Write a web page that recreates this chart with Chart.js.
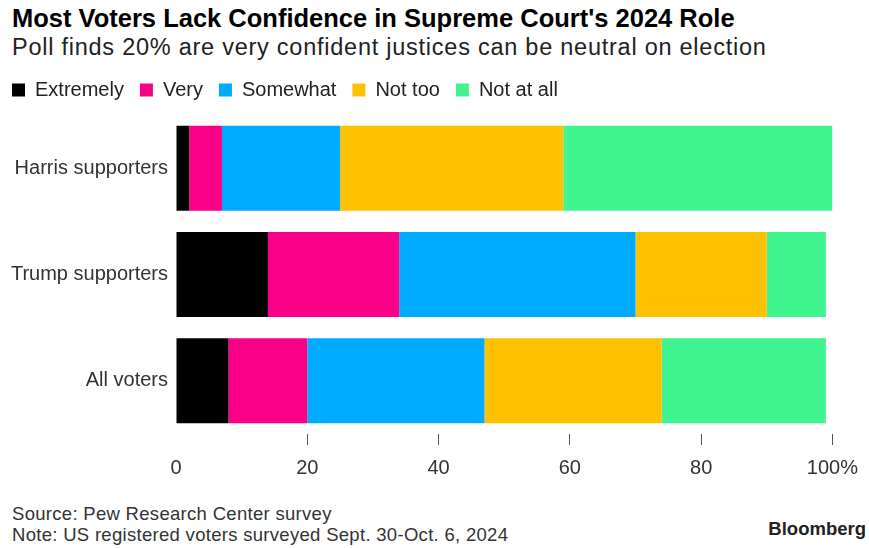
<!DOCTYPE html>
<html lang="en">
<head>
    <meta charset="UTF-8">
    <title>Supreme Court confidence</title>
    <script src="https://cdn.jsdelivr.net/npm/chart.js"></script>
</head>
<style>
    body {
        margin: 0;
        background-color: #ffffff;
        width: 869px;
        height: 548px;
        overflow: hidden;
        position: relative;
        font-family: 'Liberation Sans', Arial, sans-serif;
    }

    h1 {
        position: absolute;
        left: 12px;
        top: 4px;
        margin: 0;
        font-size: 25.5px;
        line-height: normal;
        font-weight: bold;
        color: #000;
        white-space: nowrap;
    }

    h2 {
        position: absolute;
        left: 12px;
        top: 34px;
        margin: 0;
        font-size: 23.5px;
        line-height: normal;
        letter-spacing: 0.75px;
        font-weight: normal;
        color: #222;
        white-space: nowrap;
    }

    .wrap {
        position: absolute;
        left: -4px;
        top: 64px;
        width: 873px;
        height: 420px;
    }

    .foot {
        position: absolute;
        left: 12px;
        top: 503px;
        font-size: 18.5px;
        line-height: 21px;
        letter-spacing: 0.3px;
        color: #333;
        white-space: nowrap;
    }

    .brand {
        position: absolute;
        right: 3px;
        top: 518px;
        font-size: 18.5px;
        line-height: normal;
        font-weight: bold;
        color: #222;
    }
</style>
<body>

<h1>Most Voters Lack Confidence in Supreme Court's 2024 Role</h1>
<h2>Poll finds 20% are very confident justices can be neutral on election</h2>

<div class="wrap">
    <canvas id="barChart" width="873" height="420"></canvas>
</div>

<div class="foot">Source: Pew Research Center survey<br>Note: US registered voters surveyed Sept. 30-Oct. 6, 2024</div>
<div class="brand">Bloomberg</div>

<script>
    // groups of voters, top to bottom
    const groups = ['Harris supporters', 'Trump supporters', 'All voters'];

    // share of each group by confidence level (%)
    const extremely = [2, 14, 8];
    const very = [5, 20, 12];
    const somewhat = [18, 36, 27];
    const notToo = [34, 20, 27];
    const notAtAll = [41, 9, 25];

    const levels = ['Extremely', 'Very', 'Somewhat', 'Not too', 'Not at all'];
    const colors = ['#000000', '#fa0088', '#00aaff', '#fdc100', '#40f590'];
    const xTicks = [0, 20, 40, 60, 80, 100];

    const series = [extremely, very, somewhat, notToo, notAtAll];
    const font = "'Liberation Sans', Arial, sans-serif";

    // a bit more room between the legend and the bars
    const legendGap = {
        id: 'legendGap',
        beforeInit(chart) {
            const fit = chart.legend.fit;
            chart.legend.fit = function () {
                fit.bind(chart.legend)();
                this.height += 5;
            };
        }
    };

    const ctx = document.getElementById('barChart').getContext('2d');
    const barChart = new Chart(ctx, {
        type: 'bar',
        data: {
            labels: groups,
            datasets: series.map((d, i) => ({
                label: levels[i],
                data: d,
                backgroundColor: colors[i],
                borderWidth: 0,
                categoryPercentage: 0.8,
                barPercentage: 1.0
            }))
        },
        options: {
            indexAxis: 'y',
            responsive: false,
            animation: false,
            layout: { padding: { top: 0, right: 36, bottom: 0, left: 0 } },
            plugins: {
                legend: {
                    position: 'top',
                    align: 'start',
                    labels: {
                        boxWidth: 13,
                        boxHeight: 13,
                        padding: 16,
                        color: '#222',
                        font: { family: font, size: 20 }
                    }
                },
                tooltip: { enabled: false }
            },
            scales: {
                x: {
                    stacked: true,
                    min: 0,
                    max: 100,
                    afterBuildTicks: s => { s.ticks = xTicks.map(v => ({ value: v })); },
                    afterFit: s => { s.height = 50; },
                    border: { display: false },
                    grid: {
                        drawOnChartArea: false,
                        drawTicks: true,
                        tickLength: 11,
                        color: c => c.tick && c.tick.value === 0 ? 'rgba(0,0,0,0)' : '#555'
                    },
                    ticks: {
                        padding: 11,
                        color: '#333',
                        font: { family: font, size: 20 },
                        callback: v => v === 100 ? '100%' : v
                    }
                },
                y: {
                    stacked: true,
                    afterFit: s => { s.width = 180; },
                    border: { display: false },
                    grid: { display: false, drawTicks: false },
                    ticks: {
                        padding: 8,
                        color: '#333',
                        font: { family: font, size: 20 }
                    }
                }
            }
        },
        plugins: [legendGap]
    });
</script>
</body>
</html>
